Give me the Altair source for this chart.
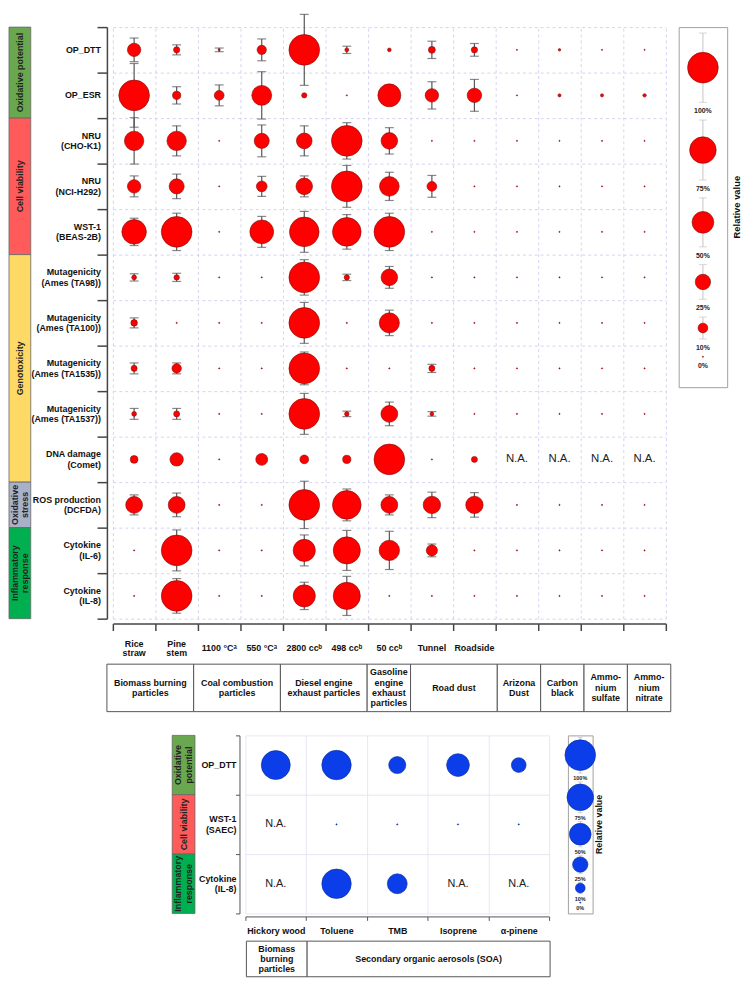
import math
import altair as alt
import pandas as pd

FONT = "Liberation Sans"
NA = None

# ---------------- top figure data ----------------
cols_top = ["Rice\nstraw", "Pine\nstem", "1100 °Cᵃ", "550 °Cᵃ", "2800 ccᵇ", "498 ccᵇ",
            "50 ccᵇ", "Tunnel", "Roadside", "Arizona Dust", "Carbon black",
            "Ammonium sulfate", "Ammonium nitrate"]
cols_top_unlabelled = ["Arizona Dust", "Carbon black", "Ammonium sulfate", "Ammonium nitrate"]
rows_top = ["OP_DTT", "OP_ESR", "NRU\n(CHO-K1)", "NRU\n(NCI-H292)", "WST-1\n(BEAS-2B)",
            "Mutagenicity\n(Ames (TA98))", "Mutagenicity\n(Ames (TA100))",
            "Mutagenicity\n(Ames (TA1535))", "Mutagenicity\n(Ames (TA1537))",
            "DNA damage\n(Comet)", "ROS production\n(DCFDA)", "Cytokine\n(IL-6)", "Cytokine\n(IL-8)"]

# relative values (0-1), None = N.A.
val_op_dtt = [0.19, 0.04, 0.003, 0.09, 1.0, 0.015, 0.013, 0.05, 0.04, 0, 0.005, 0, 0]
val_op_esr = [1.0, 0.07, 0.10, 0.42, 0.027, 0, 0.56, 0.19, 0.22, 0, 0.009, 0.009, 0.011]
val_nru_cho = [0.40, 0.40, 0, 0.24, 0.26, 1.0, 0.29, 0, 0, 0, 0, 0, 0]
val_nru_nci = [0.19, 0.24, 0, 0.12, 0.29, 1.0, 0.41, 0.10, 0, 0, 0, 0, 0]
val_wst1 = [0.64, 1.0, 0, 0.60, 0.93, 0.87, 1.0, 0, 0, 0, 0, 0, 0]
val_ta98 = [0.023, 0.03, 0, 0, 1.0, 0.027, 0.29, 0, 0, 0, 0, 0, 0]
val_ta100 = [0.044, 0, 0, 0, 1.0, 0, 0.43, 0, 0, 0, 0, 0, 0]
val_ta1535 = [0.037, 0.093, 0, 0, 1.0, 0, 0, 0.037, 0, 0, 0, 0, 0]
val_ta1537 = [0.023, 0.037, 0, 0, 1.0, 0.02, 0.30, 0.013, 0, 0, 0, 0, 0]
val_dna = [0.062, 0.19, 0, 0.15, 0.08, 0.07, 1.0, 0, 0.037, NA, NA, NA, NA]
val_ros = [0.30, 0.30, 0, 0, 1.0, 0.87, 0.30, 0.32, 0.32, 0, 0, 0, 0]
val_il6 = [0, 1.0, 0, 0, 0.52, 0.78, 0.44, 0.13, 0, 0, 0, 0, 0]
val_il8 = [0, 1.0, 0, 0, 0.52, 0.78, 0, 0, 0, 0, 0, 0, 0]

# error half-lengths (in row units)
err_op_dtt = [0.26, 0.11, 0.04, 0.24, 0.78, 0.08, 0, 0.19, 0.14, 0, 0, 0, 0]
err_op_esr = [0.70, 0.19, 0.23, 0.52, 0, 0, 0, 0.30, 0.35, 0, 0, 0, 0]
err_nru_cho = [0.51, 0.33, 0, 0.35, 0.33, 0.40, 0.29, 0, 0, 0, 0, 0, 0]
err_nru_nci = [0.23, 0.27, 0, 0.22, 0.23, 0.46, 0.31, 0.24, 0, 0, 0, 0, 0]
err_wst1 = [0.30, 0.41, 0, 0.34, 0.45, 0.38, 0.41, 0, 0, 0, 0, 0, 0]
err_ta98 = [0.08, 0.09, 0, 0, 0.39, 0.07, 0.24, 0, 0, 0, 0, 0, 0]
err_ta100 = [0.11, 0, 0, 0, 0.45, 0, 0.28, 0, 0, 0, 0, 0, 0]
err_ta1535 = [0.12, 0.12, 0, 0, 0.36, 0, 0, 0.09, 0, 0, 0, 0, 0]
err_ta1537 = [0.12, 0.12, 0, 0, 0.45, 0.06, 0.26, 0.05, 0, 0, 0, 0, 0]
err_dna = [0, 0, 0, 0, 0, 0, 0, 0, 0, 0, 0, 0, 0]
err_ros = [0.22, 0.26, 0, 0, 0.52, 0.35, 0.22, 0.28, 0.27, 0, 0, 0, 0]
err_il6 = [0, 0.45, 0, 0, 0.34, 0.44, 0.42, 0.14, 0, 0, 0, 0, 0]
err_il8 = [0, 0.38, 0, 0, 0.30, 0.43, 0, 0, 0, 0, 0, 0, 0]

vals_top = [val_op_dtt, val_op_esr, val_nru_cho, val_nru_nci, val_wst1, val_ta98, val_ta100,
            val_ta1535, val_ta1537, val_dna, val_ros, val_il6, val_il8]
errs_top = [err_op_dtt, err_op_esr, err_nru_cho, err_nru_nci, err_wst1, err_ta98, err_ta100,
            err_ta1535, err_ta1537, err_dna, err_ros, err_il6, err_il8]

groups_top = ["Oxidative potential", "Cell viability", "Genotoxicity", "Oxidative\nstress",
              "Inflammatory\nresponse"]
groups_top_start = [0, 2, 5, 10, 11]
groups_top_end = [2, 5, 10, 11, 13]
groups_top_colors = ["#6aa84f", "#ff5b5b", "#ffd966", "#a9b0c8", "#00b050"]

table_top_labels = ["Biomass burning\nparticles", "Coal combustion\nparticles",
                    "Diesel engine\nexhaust particles", "Gasoline\nengine\nexhaust\nparticles",
                    "Road dust", "Arizona\nDust", "Carbon\nblack", "Ammo-\nnium\nsulfate",
                    "Ammo-\nnium\nnitrate"]
table_top_start = [0, 2, 4, 6, 7, 9, 10, 11, 12]
table_top_end = [2, 4, 6, 7, 9, 10, 11, 12, 13]

# ---------------- bottom figure data ----------------
cols_bot = ["Hickory wood", "Toluene", "TMB", "Isoprene", "α-pinene"]
rows_bot = ["OP_DTT", "WST-1\n(SAEC)", "Cytokine\n(IL-8)"]
val_b_op_dtt = [0.89, 0.92, 0.31, 0.55, 0.23]
val_b_wst1 = [NA, 0, 0, 0, 0]
val_b_il8 = [NA, 0.92, 0.42, NA, NA]
err_b_op_dtt = [0.14, 0.15, 0.08, 0.15, 0.06]
err_b_wst1 = [0, 0, 0, 0, 0]
err_b_il8 = [0, 0.17, 0.12, 0, 0]
vals_bot = [val_b_op_dtt, val_b_wst1, val_b_il8]
errs_bot = [err_b_op_dtt, err_b_wst1, err_b_il8]

groups_bot = ["Oxidative\npotential", "Cell viability", "Inflammatory\nresponse"]
groups_bot_start = [0, 1, 2]
groups_bot_end = [1, 2, 3]
groups_bot_colors = ["#6aa84f", "#ff5b5b", "#00b050"]

table_bot_labels = ["Biomass\nburning\nparticles", "Secondary organic aerosols (SOA)"]
table_bot_start = [0, 1]
table_bot_end = [1, 5]

legend_vals = [1.0, 0.75, 0.5, 0.25, 0.1, 0.0]
legend_labels = ["100%", "75%", "50%", "25%", "10%", "0%"]
legend_title = "Relative value"


# ---------------- builders ----------------
def bubble_panel(cols, rows, vals, errs, width, height, fill, stroke, max_area,
                 err_color, err_w, cap, x_axis, y_axis, na_size):
    recs = []
    for r, (vr, er) in enumerate(zip(vals, errs)):
        for c, (v, e) in enumerate(zip(vr, er)):
            recs.append(dict(row=rows[r], col=cols[c], v=v, err=e,
                             lo=r + 0.5 - e, hi=r + 0.5 + e))
    df = pd.DataFrame(recs)
    circ = df[df["v"].notna()]
    na = df[df["v"].isna()].assign(t="N.A.")
    eb = df[df["err"] > 0]
    n = len(rows)
    xenc = alt.X("col:N", scale=alt.Scale(domain=cols, paddingInner=0, paddingOuter=0),
                 axis=x_axis, title=None)
    yq = alt.Scale(domain=[0, n], reverse=True, nice=False, zero=False)
    yn = alt.Y("row:N", scale=alt.Scale(domain=rows, paddingInner=0, paddingOuter=0),
               axis=y_axis, title=None)
    rule = alt.Chart(eb).mark_rule(color=err_color, strokeWidth=err_w).encode(
        x=xenc, y=alt.Y("lo:Q", scale=yq, axis=None), y2="hi:Q")
    cap_lo = alt.Chart(eb).mark_tick(color=err_color, thickness=err_w, size=cap).encode(
        x=xenc, y=alt.Y("lo:Q", scale=yq, axis=None))
    cap_hi = alt.Chart(eb).mark_tick(color=err_color, thickness=err_w, size=cap).encode(
        x=xenc, y=alt.Y("hi:Q", scale=yq, axis=None))
    dots = alt.Chart(circ).mark_circle(opacity=1, stroke=stroke, strokeWidth=0.6).encode(
        x=xenc, y=yn,
        size=alt.Size("v:Q", scale=alt.Scale(domain=[0, 1], range=[1.5, max_area]), legend=None),
        color=alt.value(fill))
    layers = [dots]
    if len(na):
        layers.append(alt.Chart(na).mark_text(font=FONT, fontSize=na_size, color="#222").encode(
            x=xenc, y=yn, text="t:N"))
    return alt.layer(alt.layer(rule, cap_lo, cap_hi), alt.layer(*layers)).resolve_scale(
        y="independent").properties(width=width, height=height)


def legend_panel(R, start, a, b, width, height, max_area, fill, stroke, bar_color, cap,
                 font_size, title_size, title_gap):
    tops, cents, bots, labs = [], [], [], []
    cur = start
    for v in legend_vals:
        d = 2 * R * math.sqrt(v)
        tops.append(cur)
        cents.append(cur + d)
        bots.append(cur + 2 * d)
        labs.append(cur + 2 * d + a)
        cur = cur + 2 * d + a + b
    df = pd.DataFrame(dict(v=legend_vals, lab=legend_labels, top=tops, cen=cents, bot=bots, ly=labs))
    bars = df[df["v"] > 0]
    ttl = pd.DataFrame(dict(t=[legend_title], tx=[width + title_gap], ty=[height / 2]))
    ys = alt.Scale(domain=[0, height], reverse=True, nice=False, zero=False)
    xs = alt.Scale(domain=[0, width], nice=False, zero=False)
    xc = alt.value(width / 2)
    rule = alt.Chart(bars).mark_rule(color=bar_color, strokeWidth=1).encode(
        x=xc, y=alt.Y("top:Q", scale=ys, axis=None), y2="bot:Q")
    c1 = alt.Chart(bars).mark_tick(color=bar_color, thickness=1, size=cap).encode(
        x=xc, y=alt.Y("top:Q", scale=ys, axis=None))
    c2 = alt.Chart(bars).mark_tick(color=bar_color, thickness=1, size=cap).encode(
        x=xc, y=alt.Y("bot:Q", scale=ys, axis=None))
    circ = alt.Chart(df).mark_circle(opacity=1, stroke=stroke, strokeWidth=0.6).encode(
        x=xc, y=alt.Y("cen:Q", scale=ys, axis=None),
        size=alt.Size("v:Q", scale=alt.Scale(domain=[0, 1], range=[1.5, max_area]), legend=None),
        color=alt.value(fill))
    txt = alt.Chart(df).mark_text(font=FONT, fontSize=font_size, fontWeight="bold",
                                  color="#222").encode(
        x=xc, y=alt.Y("ly:Q", scale=ys, axis=None), text="lab:N")
    title = alt.Chart(ttl).mark_text(font=FONT, fontSize=title_size, fontWeight="bold",
                                     color="#111", angle=270).encode(
        x=alt.X("tx:Q", scale=xs, axis=None), y=alt.Y("ty:Q", scale=ys, axis=None), text="t:N")
    return alt.layer(rule, c1, c2, circ, txt, title).properties(
        width=width, height=height, view=alt.ViewBackground(stroke="#a0a0a0", strokeWidth=1))


def group_panel(names, starts, ends, colors, n, width, height, box_w, font_size,
                row_labels, label_right, label_lh):
    """Coloured category boxes plus the (centred, multi-line) row labels of the bubble grid."""
    lh = font_size + 1.5
    row_h = height / n
    df = pd.DataFrame(dict(name=names, s=starts, e=ends))
    df["m"] = (df["s"] + df["e"]) / 2
    df["tx"] = [box_w / 2 - (nm.count("\n")) * lh / 2 for nm in names]
    lab = pd.DataFrame(dict(lab=row_labels))
    lab["ty"] = [i + 0.5 - lb.count("\n") * label_lh / (2 * row_h) for i, lb in enumerate(row_labels)]
    lab["tx"] = label_right
    ys = alt.Scale(domain=[0, n], reverse=True, nice=False, zero=False)
    xs = alt.Scale(domain=[0, width], nice=False, zero=False)
    rect = alt.Chart(df).mark_rect(stroke="#666", strokeWidth=0.8).encode(
        x=alt.value(0), x2=alt.value(box_w),
        y=alt.Y("s:Q", scale=ys, axis=None), y2="e:Q",
        color=alt.Color("name:N", scale=alt.Scale(domain=names, range=colors), legend=None))
    txt = alt.Chart(df).mark_text(angle=270, font=FONT, fontSize=font_size, fontWeight="bold",
                                  color="#222", lineBreak="\n", lineHeight=lh).encode(
        x=alt.X("tx:Q", scale=xs, axis=None), y=alt.Y("m:Q", scale=ys, axis=None),
        text="name:N")
    labels = alt.Chart(lab).mark_text(font=FONT, fontSize=9, fontWeight="bold", color="#111",
                                      align="right", lineBreak="\n", lineHeight=label_lh).encode(
        x=alt.X("tx:Q", scale=xs, axis=None), y=alt.Y("ty:Q", scale=ys, axis=None),
        text="lab:N")
    return alt.layer(rect, txt, labels).properties(width=width, height=height)


def xlabel_panel(cols, hidden, width, height, center, lh):
    shown = [c for c in cols if c not in hidden]
    df = pd.DataFrame(dict(col=shown))
    df["ty"] = [center - c.count("\n") * lh / 2 for c in shown]
    xs = alt.Scale(domain=cols, paddingInner=0, paddingOuter=0)
    ys = alt.Scale(domain=[0, height], reverse=True, nice=False, zero=False)
    return alt.Chart(df).mark_text(font=FONT, fontSize=9, fontWeight="bold", color="#111",
                                   lineBreak="\n", lineHeight=lh).encode(
        x=alt.X("col:N", scale=xs, axis=None), y=alt.Y("ty:Q", scale=ys, axis=None),
        text="col:N").properties(width=width, height=height)


def table_panel(labels, starts, ends, n, width, height, font_size, line_h):
    df = pd.DataFrame(dict(lab=labels, s=starts, e=ends))
    df["m"] = (df["s"] + df["e"]) / 2
    df["ty"] = [height / 2 - lb.count("\n") * line_h / 2 for lb in labels]
    xs = alt.Scale(domain=[0, n], nice=False, zero=False)
    ys = alt.Scale(domain=[0, height], reverse=True, nice=False, zero=False)
    rect = alt.Chart(df).mark_rect(fill="white", stroke="#555", strokeWidth=1).encode(
        x=alt.X("s:Q", scale=xs, axis=None), x2="e:Q",
        y=alt.value(0), y2=alt.value(height))
    txt = alt.Chart(df).mark_text(font=FONT, fontSize=font_size, fontWeight="bold", color="#111",
                                  lineBreak="\n", lineHeight=line_h).encode(
        x=alt.X("m:Q", scale=xs, axis=None), y=alt.Y("ty:Q", scale=ys, axis=None),
        text="lab:N")
    return alt.layer(rect, txt).properties(width=width, height=height)


def spacer(w, h):
    return alt.Chart(pd.DataFrame({"a": [0]})).mark_point(opacity=0, size=0).encode(
        x=alt.value(1), y=alt.value(1)).properties(width=w, height=h)


# ---------------- axes (ticks, domain lines and grid; row labels drawn as text) ----------------
x_axis_top = alt.Axis(orient="bottom", offset=5, tickBand="extent", tickSize=7, tickWidth=1.5,
                      tickColor="#444", domainColor="#444", domainWidth=1.5, labels=False,
                      grid=True, gridDash=[3, 3], gridColor="#c9c9ee", gridWidth=0.8, title=None)
y_axis_top = alt.Axis(orient="left", offset=6, tickBand="extent", tickSize=10, tickWidth=1.5,
                      tickColor="#444", domainColor="#444", domainWidth=1.5, labels=False,
                      grid=True, gridDash=[3, 3], gridColor="#c9c9ee", gridWidth=0.8, title=None)
x_axis_bot = alt.Axis(orient="bottom", offset=3, tickBand="extent", tickSize=4, tickWidth=1,
                      tickColor="#555", domainColor="#555", domainWidth=1, labelAngle=0,
                      labelFont=FONT, labelFontSize=9, labelFontWeight="bold", labelColor="#111",
                      labelPadding=6, grid=True, gridColor="#e0e0f2", gridWidth=0.8, title=None)
y_axis_bot = alt.Axis(orient="left", offset=6, tickBand="extent", tickSize=4, tickWidth=1,
                      tickColor="#555", domainColor="#555", domainWidth=1, labels=False,
                      grid=True, gridColor="#e0e0f2", gridWidth=0.8, title=None)

# ---------------- panels ----------------
ROW_TOP = 46
GW_TOP, SP_TOP = 92, 13
main_top = bubble_panel(cols_top, rows_top, vals_top, errs_top, 559, ROW_TOP * 13,
                        "#ff0000", "#7a1010", 962, "#555555", 1.2, 9,
                        x_axis_top, y_axis_top, 11.5)
group_top = group_panel(groups_top, groups_top_start, groups_top_end, groups_top_colors, 13,
                        GW_TOP, ROW_TOP * 13, 22, 9, rows_top, GW_TOP + SP_TOP - 12, 10.5)
legend_top = legend_panel(17.5, 6, 9, 9, 49, 364, 962, "#ff0000", "#7a1010", "#c4c4c4", 8,
                          7, 9.5, 10)
xlab_top = xlabel_panel(cols_top, cols_top_unlabelled, 559, 20, 12, 9.5)
table_top = table_panel(table_top_labels, table_top_start, table_top_end, 13, 570, 48, 9, 10.5)

ROW_BOT = 60
GW_BOT, SP_BOT = 55, 19
main_bot = bubble_panel(cols_bot, rows_bot, vals_bot, errs_bot, 307, ROW_BOT * 3,
                        "#0b3ee8", "#0a2a99", 254, "#aaaaaa", 1, 5,
                        x_axis_bot, y_axis_bot, 11)
group_bot = group_panel(groups_bot, groups_bot_start, groups_bot_end, groups_bot_colors, 3,
                        GW_BOT, ROW_BOT * 3, 23, 9, rows_bot, GW_BOT + SP_BOT - 9, 10.5)
legend_bot = legend_panel(9, 2, 5.5, 3.5, 25, 180, 254, "#0b3ee8", "#0a2a99", "#c4c4c4", 5,
                          5.5, 9, 6)
table_bot = table_panel(table_bot_labels, table_bot_start, table_bot_end, 5, 307, 36, 9, 10.5)

top_row = alt.hconcat(group_top, main_top, legend_top, spacing=SP_TOP, bounds="flush")
xlab_row = alt.hconcat(spacer(GW_TOP + SP_TOP, 20), xlab_top, spacing=0, bounds="flush")
table_row = alt.hconcat(spacer(99, 66), table_top, spacing=0, bounds="flush")
bot_row = alt.hconcat(spacer(146, 20), group_bot, main_bot, legend_bot, spacing=SP_BOT,
                      bounds="flush")
table_bot_row = alt.hconcat(spacer(240, 36), table_bot, spacing=0, bounds="flush")

chart = alt.vconcat(top_row, xlab_row, table_row, bot_row, table_bot_row, spacing=5, padding=0
                    ).configure_view(strokeWidth=0)

chart.save("out.html", embed_options={"renderer": "svg", "actions": False})
